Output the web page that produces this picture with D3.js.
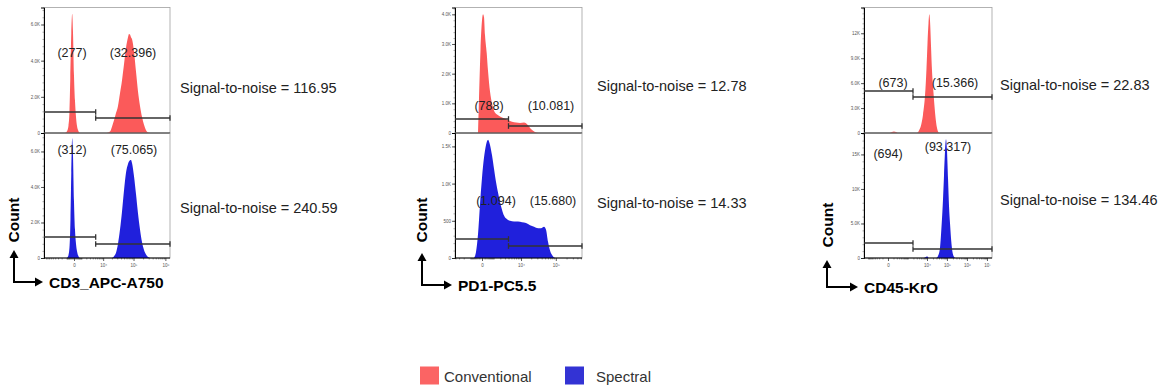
<!DOCTYPE html>
<html>
<head>
<meta charset="utf-8">
<script src="https://cdn.jsdelivr.net/npm/d3@7"></script>
<style>
  body { margin: 0; background: #fff; }
  svg { display: block; }
  text { font-family: "Liberation Sans", Arial, sans-serif; }
</style>
</head>
<body>
<svg id="chart" width="1160" height="387"></svg>
<script>
// ---------- data ----------
const markers = ['CD3_APC-A750', 'PD1-PC5.5', 'CD45-KrO'];
const series = ['Conventional', 'Spectral'];

// fluorescence range shown on each panel (biex-like, drawn with symlog)
const xDomains = [[-10700, 1396000], [-4160, 538000], [-1678, 17900000]];
const symlogConstants = [1400, 899, 113.5];
const xTicks = [[0, 1e4, 1e5, 1e6], [0, 1e4, 1e5], [0, 1e4, 1e5, 1e6, 1e7]];

// count axis: [conventional, spectral]
const yMax = [[6940, 7040], [4230, 1680], [15100, 18100]];
const yTicks = [
  [[0, 2000, 4000, 6000], [0, 2000, 4000, 6000]],
  [[0, 1000, 2000, 3000, 4000], [0, 500, 1000, 1500]],
  [[0, 3000, 6000, 9000, 12000], [0, 5000, 10000, 15000]]
];
const yMinorSteps = [[400, 400], [200, 100], [600, 1000]];

// gate boundary (neg | pos) and event counts in each gate
const gateThresholds = [5271, 4000, 1905];
const gateCounts = [
  [[277, 32396], [312, 75065]],
  [[788, 10081], [1094, 15680]],
  [[673, 15366], [694, 93317]]
];
const signalToNoise = [[116.95, 240.59], [12.78, 14.33], [22.83, 134.46]];

// histograms: [fluorescence, count]
const cd3Conventional = [
  [-1275, 0], [-916, 100], [-680, 400], [-535, 1200], [-427, 3000], [-300, 5500], [-194, 6600],
  [-104, 5600], [0, 3200], [104, 1800], [217, 900], [337, 400], [535, 100], [756, 0],
  [13315, 0], [17260, 80], [20150, 350], [23490, 700], [27340, 1100], [31780, 1500], [36920, 2200],
  [42840, 2900], [49690, 3800], [57590, 4700], [66720, 5300], [71900, 5480], [77270, 5450],
  [83130, 5300], [89440, 5200], [103530, 4500], [119700, 3400], [138460, 2300], [160160, 1500],
  [185080, 900], [214060, 450], [247380, 150], [285880, 30], [330400, 0]
];
const cd3Spectral = [
  [-916, 0], [-680, 150], [-535, 600], [-401, 2200], [-300, 4800], [-194, 6740], [-104, 5800],
  [0, 3200], [104, 1600], [217, 800], [337, 400], [535, 100], [756, 0],
  [20150, 0], [23490, 100], [27340, 300], [31780, 800], [36920, 1600], [42840, 2600], [49690, 3800],
  [57590, 4800], [66720, 5300], [77270, 5500], [83130, 5520], [89440, 5350], [103530, 4600],
  [119700, 3600], [138460, 2500], [160160, 1600], [185080, 900], [214060, 450], [247380, 200],
  [285880, 50], [330400, 0]
];
const pd1Conventional = [
  [-262, 0], [-190, 1200], [-91, 2800], [0, 3800], [59, 4000], [123, 3900], [190, 3300], [315, 2700],
  [421, 2100], [601, 1400], [806, 1000], [1038, 750], [1448, 620], [1945, 560], [2774, 500],
  [3846, 440], [5229, 380], [7017, 350], [9325, 340], [12307, 350], [14110, 330], [16155, 260],
  [18490, 170], [22590, 80], [27560, 20], [31450, 0]
];
const pd1Spectral = [
  [-601, 0], [-421, 80], [-262, 320], [-123, 720], [0, 1080], [123, 1350], [262, 1520], [421, 1590],
  [601, 1520], [806, 1380], [1038, 1200], [1303, 1020], [1603, 880], [1945, 750], [2333, 650],
  [2774, 570], [3552, 520], [4493, 500], [6066, 490], [8098, 490], [10720, 480], [14110, 470],
  [18490, 440], [24140, 420], [31450, 400], [38300, 400], [46600, 420], [53100, 380], [60420, 220],
  [68800, 100], [78300, 40], [95070, 0]
];
const cd45Conventional = [
  [29, 0], [66, 120], [113, 180], [172, 120], [245, 0],
  [3085, 0], [3914, 300], [4955, 900], [6268, 2200], [7921, 4500], [9436, 7800], [10600, 10800],
  [11910, 13200], [13070, 14300], [14170, 13500], [15920, 10500], [17870, 7500], [21270, 4800],
  [25300, 2500], [31870, 600], [40140, 0]
];
const cd45Spectral = [
  [7000, 0], [8800, 150], [10500, 200], [12300, 0],
  [28390, 0], [35760, 300], [45060, 1500], [54810, 5000], [63710, 8500], [71500, 12000],
  [80250, 15500], [90060, 17200], [101070, 15500], [113430, 11500], [127290, 7500], [142860, 5000],
  [169760, 2000], [201760, 500], [254000, 0]
];
const histograms = [
  [cd3Conventional, cd3Spectral],
  [pd1Conventional, pd1Spectral],
  [cd45Conventional, cd45Spectral]
];

// ---------- layout ----------
const colors = ['#fb5a5a', '#2020dc'];
const legendColors = ['#fb6464', '#3333d4'];
const panelX = [[44, 170], [455, 582], [864, 992]];
const rowY = [[7.5, 133], [133, 258]];
const gateY = [
  [[112, 118], [237, 244]],
  [[119, 126], [239, 246]],
  [[91, 97], [243, 249]]
];
const gateLabelPos = [
  [[[72, 53], [133, 53]], [[72, 150], [134, 150]]],
  [[[489, 106], [551, 106]], [[496, 201], [553, 201]]],
  [[[893, 83], [955, 83]], [[888, 154], [948, 147]]]
];
const snX = [180, 597, 1000];
const snY = [[88, 208], [86, 203], [85, 200]];
// corner x, corner y, vertical tip y, horizontal tip x
const arrows = [[14, 282, 250, 43], [422, 285, 253, 452], [827, 287, 260, 858]];
const countLabelPos = [[13, 220], [421, 220], [827, 225]];

const svg = d3.select('#chart');
const sup = { 4: '\u2074', 5: '\u2075', 6: '\u2076', 7: '\u2077' };
const kFormat = d => d === 0 ? '0' : d < 1000 ? String(d) : d3.format('.2r')(d / 1000) + 'K';
const euro = d3.formatLocale({ decimal: ',', thousands: '.', grouping: [3], currency: ['', ''] });
const countFormat = euro.format(',d');

function minorXTicks(domain) {
  let t = [];
  for (let s = -1; s <= 1; s += 2) {
    for (let k = 1; k < 10; k++) { t.push(s * k * 100); t.push(s * k * 1000); }
  }
  for (let e = 4; e <= 7; e++) {
    for (let k = 2; k < 10; k++) t.push(k * Math.pow(10, e));
  }
  return t.filter(v => v > domain[0] && v < domain[1]);
}

markers.forEach((marker, i) => {
  const x = d3.scaleSymlog()
    .constant(symlogConstants[i])
    .domain(xDomains[i])
    .range(panelX[i]);

  series.forEach((s, r) => {
    const y = d3.scaleLinear()
      .domain([0, yMax[i][r]])
      .range([rowY[r][1], rowY[r][0]]);
    const g = svg.append('g');

    const clipId = 'clip-' + i + '-' + r;
    svg.append('clipPath').attr('id', clipId)
      .append('rect')
      .attr('x', panelX[i][0]).attr('y', rowY[r][0])
      .attr('width', panelX[i][1] - panelX[i][0])
      .attr('height', rowY[r][1] - rowY[r][0]);

    // frame
    g.append('rect')
      .attr('x', panelX[i][0]).attr('y', rowY[r][0])
      .attr('width', panelX[i][1] - panelX[i][0])
      .attr('height', rowY[r][1] - rowY[r][0])
      .attr('fill', 'none')
      .attr('stroke', '#a0a0a0')
      .attr('stroke-width', 0.8);

    // histogram
    const area = d3.area()
      .x(d => x(d[0]))
      .y0(y(0))
      .y1(d => y(d[1]))
      .curve(d3.curveMonotoneX);
    g.append('path')
      .datum(histograms[i][r])
      .attr('clip-path', 'url(#' + clipId + ')')
      .attr('fill', colors[r])
      .attr('d', area);

    // y axis
    const minor = d3.range(0, yMax[i][r], yMinorSteps[i][r]);
    g.append('g')
      .attr('transform', 'translate(' + panelX[i][0] + ',0)')
      .call(d3.axisLeft(y).tickValues(minor).tickSize(1.5).tickFormat(''))
      .call(a => a.select('.domain').remove())
      .selectAll('line').attr('stroke', '#555').attr('stroke-width', 0.5);
    const ya = g.append('g')
      .attr('transform', 'translate(' + panelX[i][0] + ',0)')
      .call(d3.axisLeft(y).tickValues(yTicks[i][r]).tickSize(3).tickPadding(1).tickFormat(kFormat));
    ya.select('.domain').attr('stroke', '#000').attr('stroke-width', 1);
    ya.selectAll('line').attr('stroke', '#333').attr('stroke-width', 0.8);
    ya.selectAll('text').attr('font-size', 4.5).attr('fill', '#555')
      .attr('font-family', '"Liberation Sans", Arial, sans-serif');

    // x axis line
    const xa = g.append('g').attr('transform', 'translate(0,' + rowY[r][1] + ')');
    if (r === 1) {
      xa.call(d3.axisBottom(x).tickValues(minorXTicks(xDomains[i])).tickSize(1.5).tickFormat(''))
        .call(a => a.select('.domain').remove())
        .selectAll('line').attr('stroke', '#333').attr('stroke-width', 0.5);
      const xm = g.append('g').attr('transform', 'translate(0,' + rowY[r][1] + ')')
        .call(d3.axisBottom(x).tickValues(xTicks[i]).tickSize(3).tickPadding(3)
          .tickFormat(d => d === 0 ? '0' : '10' + sup[Math.round(Math.log10(d))]));
      xm.select('.domain').remove();
      xm.selectAll('line').attr('stroke', '#333').attr('stroke-width', 0.8);
      xm.selectAll('text').attr('font-size', 4.5).attr('fill', '#555')
        .attr('font-family', '"Liberation Sans", Arial, sans-serif');
    }
    g.append('line')
      .attr('x1', panelX[i][0]).attr('x2', panelX[i][1])
      .attr('y1', rowY[r][1]).attr('y2', rowY[r][1])
      .attr('stroke', '#000').attr('stroke-width', 1);

    // gates
    const xg = x(gateThresholds[i]);
    const gates = [
      [panelX[i][0], xg, gateY[i][r][0], false],
      [xg, panelX[i][1], gateY[i][r][1], true]
    ];
    gates.forEach(([x1, x2, gy, capStart]) => {
      g.append('line').attr('x1', x1).attr('x2', x2).attr('y1', gy).attr('y2', gy)
        .attr('stroke', '#333').attr('stroke-width', 1.3);
      const caps = capStart ? [x1, x2] : [x2];
      caps.forEach(cx => {
        g.append('line').attr('x1', cx).attr('x2', cx).attr('y1', gy - 2.8).attr('y2', gy + 2.8)
          .attr('stroke', '#333').attr('stroke-width', 1.3);
      });
    });

    // gate counts
    gateCounts[i][r].forEach((c, k) => {
      const p = gateLabelPos[i][r][k];
      g.append('text')
        .attr('x', p[0]).attr('y', p[1])
        .attr('text-anchor', 'middle')
        .attr('dominant-baseline', 'central')
        .attr('font-size', 12.5)
        .attr('fill', '#222')
        .text('(' + countFormat(c) + ')');
    });

    // signal-to-noise
    svg.append('text')
      .attr('x', snX[i]).attr('y', snY[i][r])
      .attr('dominant-baseline', 'central')
      .attr('font-size', 14.5)
      .attr('fill', '#222')
      .text('Signal-to-noise = ' + d3.format('.2f')(signalToNoise[i][r]));
  });

  // axis arrows and titles
  const [cx, cy, ty, tx] = arrows[i];
  const ag = svg.append('g');
  ag.append('path')
    .attr('d', 'M' + cx + ',' + (ty + 6) + 'V' + cy + 'H' + (tx - 6))
    .attr('fill', 'none').attr('stroke', '#000').attr('stroke-width', 2);
  ag.append('path')
    .attr('d', 'M' + cx + ',' + ty + 'L' + (cx - 4.5) + ',' + (ty + 8) + 'L' + (cx + 4.5) + ',' + (ty + 8) + 'Z')
    .attr('fill', '#000');
  ag.append('path')
    .attr('d', 'M' + tx + ',' + cy + 'L' + (tx - 8) + ',' + (cy - 4.5) + 'L' + (tx - 8) + ',' + (cy + 4.5) + 'Z')
    .attr('fill', '#000');
  ag.append('text')
    .attr('x', tx + 6).attr('y', cy)
    .attr('dominant-baseline', 'central')
    .attr('font-size', 15.5).attr('font-weight', 'bold')
    .text(marker);
  ag.append('text')
    .attr('transform', 'translate(' + countLabelPos[i][0] + ',' + countLabelPos[i][1] + ') rotate(-90)')
    .attr('text-anchor', 'middle')
    .attr('dominant-baseline', 'central')
    .attr('font-size', 15.5).attr('font-weight', 'bold')
    .text('Count');
});

// legend
const legendX = [420, 565];
series.forEach((s, k) => {
  svg.append('rect')
    .attr('x', legendX[k]).attr('y', 366.5)
    .attr('width', 19).attr('height', 18)
    .attr('fill', legendColors[k]);
  svg.append('text')
    .attr('x', legendX[k] + (k === 0 ? 24 : 31)).attr('y', 376.5)
    .attr('dominant-baseline', 'central')
    .attr('font-size', 15)
    .attr('fill', '#333')
    .text(s);
});
</script>
</body>
</html>
